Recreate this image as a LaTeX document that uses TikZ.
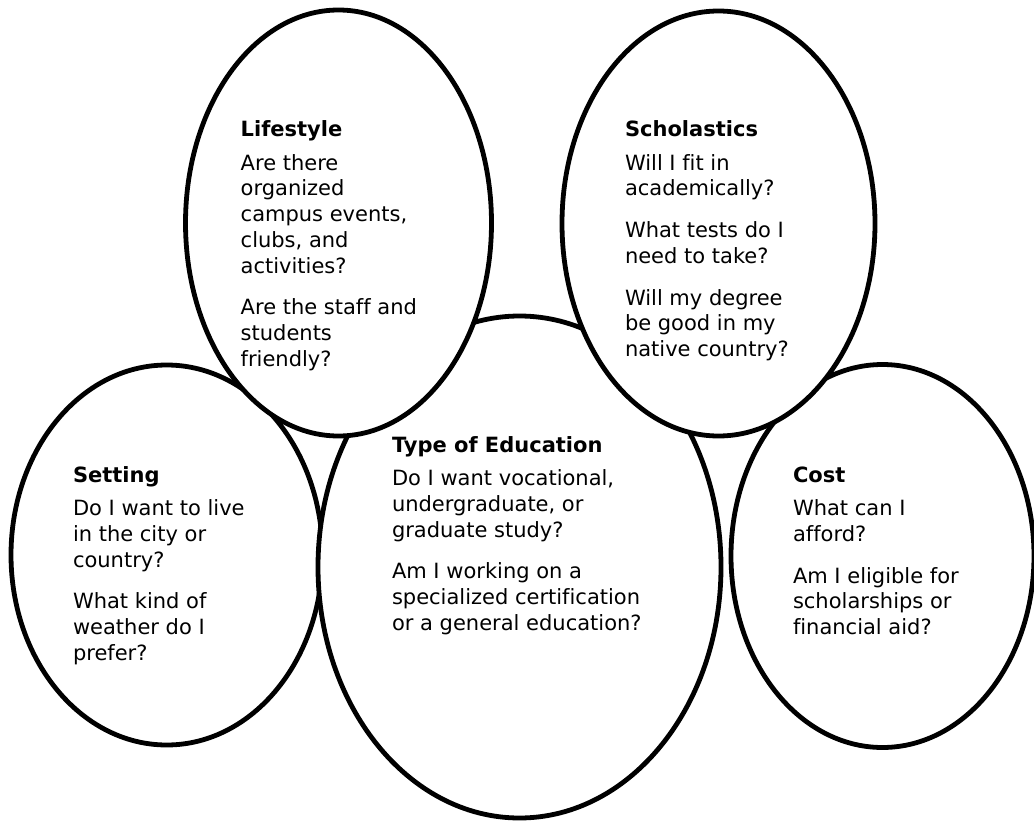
\documentclass[tikz,border=0pt]{standalone}
\usepackage{fontspec}
\setmainfont{DejaVu Sans}[Ligatures=NoCommon]
\usetikzlibrary{shapes.geometric}
\tikzset{
  bubble/.style={ellipse, draw=black, fill=white, line width=4.8pt, inner sep=0pt, outer sep=0pt},
  qtext/.style={anchor=base west, inner sep=0pt, outer sep=0pt, font=\fontsize{21}{25.7}\selectfont},
}
\newcommand{\hd}{\\[8pt]}
\newcommand{\pg}{\\[16pt]}
\begin{document}
\begin{tikzpicture}[x=1pt,y=-1pt]
\useasboundingbox (0,0) rectangle (1034,822);
% ellipses (back to front)
\node[bubble, minimum width=311.5pt, minimum height=380pt] (setting) at (166.75,555) {};
\node[bubble, minimum width=303pt, minimum height=383pt] (cost) at (882.5,556) {};
\node[bubble, minimum width=403pt, minimum height=502pt] (edu) at (519.5,567) {};
\node[bubble, minimum width=306pt, minimum height=426pt] (life) at (338.5,223) {};
\node[bubble, minimum width=313pt, minimum height=425pt] (scho) at (718.5,223.5) {};
% texts
\node[qtext] (life-t) at (240.7,136.5) {\begin{tabular}[t]{@{}l@{}}\textbf{Lifestyle}\hd
Are there\\ organized\\ campus events,\\ clubs, and\\ activities?\pg
Are the staff and\\ students\\ friendly?\end{tabular}};
\node[qtext] (scho-t) at (625,136.5) {\begin{tabular}[t]{@{}l@{}}\textbf{Scholastics}\hd
Will I fit in\\ academically?\pg
What tests do I\\ need to take?\pg
Will my degree\\ be good in my\\ native country?\end{tabular}};
\node[qtext] (setting-t) at (73,482) {\begin{tabular}[t]{@{}l@{}}\textbf{Setting}\hd
Do I want to live\\ in the city or\\ country?\pg
What kind of\\ weather do I\\ prefer?\end{tabular}};
\node[qtext] (edu-t) at (392,452) {\begin{tabular}[t]{@{}l@{}}\textbf{Type of Education}\hd
Do I want vocational,\\ undergraduate, or\\ graduate study?\pg
Am I working on a\\ specialized certification\\ or a general education?\end{tabular}};
\node[qtext] (cost-t) at (793,482) {\begin{tabular}[t]{@{}l@{}}\textbf{Cost}\hd
What can I\\ afford?\pg
Am I eligible for\\ scholarships or\\ financial aid?\end{tabular}};
\end{tikzpicture}
\end{document}
